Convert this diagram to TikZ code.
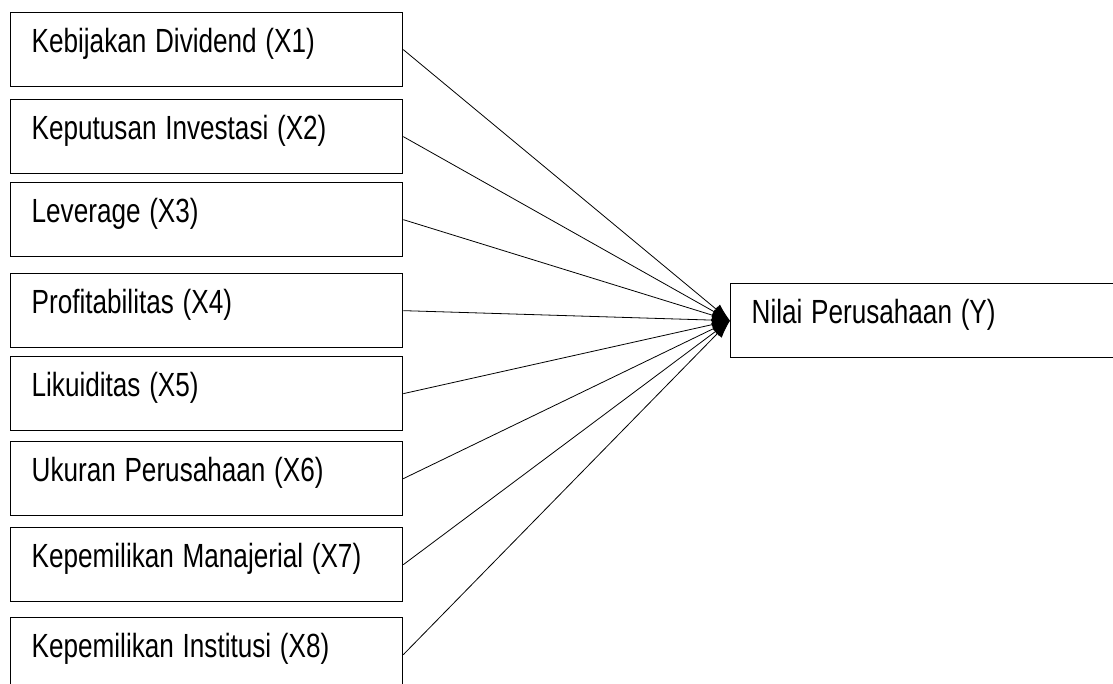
\documentclass[tikz,border=0pt]{standalone}
\usepackage{fontspec}
\setmainfont{Liberation Sans}
\usepackage{graphicx}
\usetikzlibrary{arrows.meta}
\newcommand{\boxtxt}[1]{\scalebox{0.78}[1]{#1}}
\tikzset{
  var/.style={draw, line width=1.3pt, rectangle, anchor=north west,
    inner xsep=21pt, inner ysep=0pt, text width=350pt, align=left,
    text height=40pt, text depth=34pt,
    font=\fontsize{33.5pt}{40pt}\selectfont},
  link/.style={line width=0.8pt, -{Latex[length=18pt,width=12pt]}}
}
\begin{document}
\begin{tikzpicture}[x=1pt, y=-1pt]
\useasboundingbox (0,0) rectangle (1113,684);
\clip (0,0) rectangle (1113,684);
\node[var] (x1) at (10,12) {\boxtxt{Kebijakan Dividend (X1)}};
\node[var] (x2) at (10,99) {\boxtxt{Keputusan Investasi (X2)}};
\node[var] (x3) at (10,182) {\boxtxt{Leverage (X3)}};
\node[var] (x4) at (10,273) {\boxtxt{Profitabilitas (X4)}};
\node[var] (x5) at (10,356) {\boxtxt{Likuiditas (X5)}};
\node[var] (x6) at (10,441) {\boxtxt{Ukuran Perusahaan (X6)}};
\node[var] (x7) at (10,527) {\boxtxt{Kepemilikan Manajerial (X7)}};
\node[var] (x8) at (10,617) {\boxtxt{Kepemilikan Institusi (X8)}};
\node[var] (y) at (730,283) {\boxtxt{Nilai Perusahaan (Y)}};
\foreach \i in {1,...,8}
  \draw[link] (x\i.east) -- (y.west);
\end{tikzpicture}
\end{document}
